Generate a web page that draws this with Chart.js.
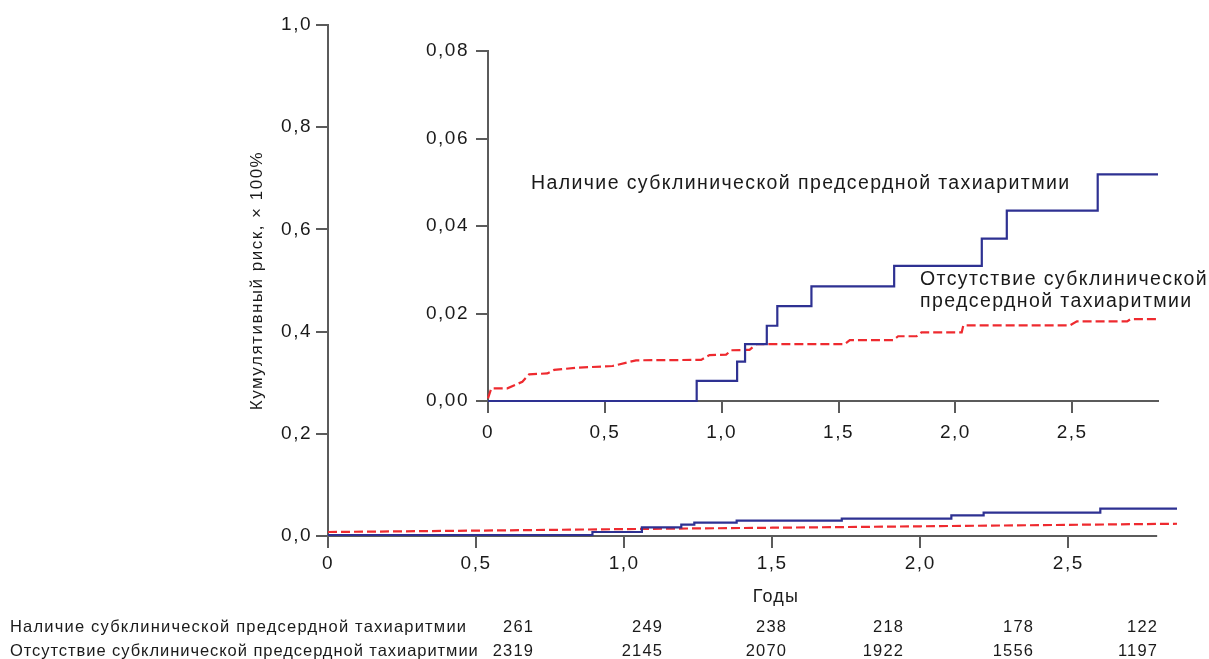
<!DOCTYPE html>
<html><head><meta charset="utf-8">
<script src="https://cdn.jsdelivr.net/npm/chart.js@4/dist/chart.umd.min.js"></script>
<style>
html,body{margin:0;padding:0;background:#fff;}
#wrap{position:relative;width:1209px;height:659px;overflow:hidden;font-family:'Liberation Sans',Arial,Helvetica,sans-serif;color:#1a1a1a;}
canvas{position:absolute;left:0;top:0;}
.t{position:absolute;white-space:nowrap;line-height:20px;}
.ann{font-size:19.5px;letter-spacing:1.4px;}
.tab{font-size:16.5px;letter-spacing:1.2px;}
</style></head><body>
<div id="wrap">
<canvas id="main" width="1209" height="659"></canvas>
<canvas id="inset" width="1209" height="659"></canvas>
</div>
<script>
// ---- tick values and labels ----
const xTicks = [0, 0.5, 1, 1.5, 2, 2.5];
const xTickLabels = ['0', '0,5', '1,0', '1,5', '2,0', '2,5'];
const mainYTicks = [0, 0.2, 0.4, 0.6, 0.8, 1.0];
const mainYTickLabels = ['0,0', '0,2', '0,4', '0,6', '0,8', '1,0'];
const insetYTicks = [0, 0.02, 0.04, 0.06, 0.08];
const insetYTickLabels = ['0,00', '0,02', '0,04', '0,06', '0,08'];
const xMax = 2.867;
const mainXAxisEnd = 2.8;

// ---- series names / texts ----
const seriesPresent = 'Наличие субклинической предсердной тахиаритмии';
const seriesAbsent = 'Отсутствие субклинической предсердной тахиаритмии';
const yTitle = 'Кумулятивный риск, × 100%';
const xTitle = 'Годы';

// ---- main chart series ----
const mainPresentX = [0, 0.893, 1.06, 1.193, 1.237, 1.38, 1.735, 2.105, 2.214, 2.608, 2.867];
const mainPresentY = [0.002, 0.0078, 0.017, 0.0223, 0.026, 0.030, 0.034, 0.0405, 0.0458, 0.0536, 0.0536];
const mainAbsentX = [0, 0.5, 1.0, 1.5, 2.0, 2.5, 2.867];
const mainAbsentY = [0.0078, 0.0105, 0.0135, 0.0162, 0.019, 0.0218, 0.024];

// ---- inset series ----
const insetPresentX = [0, 0.893, 1.066, 1.10, 1.193, 1.238, 1.384, 1.738, 2.113, 2.22, 2.609, 2.867];
const insetPresentY = [0, 0.0046, 0.009, 0.013, 0.0172, 0.0217, 0.0262, 0.0309, 0.0371, 0.0435, 0.0518, 0.0518];
const insetAbsentX = [0, 0.014, 0.083, 0.147, 0.176, 0.254, 0.283, 0.376, 0.533, 0.633, 0.912, 0.948, 1.019, 1.041, 1.119, 1.148, 1.527, 1.548, 1.734, 1.755, 1.834, 1.855, 2.027, 2.034, 2.491, 2.52, 2.735, 2.749, 2.867];
const insetAbsentY = [0.0006, 0.0029, 0.0029, 0.0044, 0.0061, 0.0063, 0.0071, 0.0076, 0.0080, 0.0093, 0.0094, 0.0105, 0.0106, 0.0116, 0.0117, 0.0130, 0.0130, 0.0139, 0.0139, 0.0148, 0.0148, 0.0157, 0.0157, 0.0173, 0.0173, 0.0182, 0.0182, 0.0187, 0.0187];

// ---- numbers at risk ----
const atRiskPresent = [261, 249, 238, 218, 178, 122];
const atRiskAbsent = [2319, 2145, 2070, 1922, 1556, 1197];

// ---- styling / layout (not data) ----
const BLUE = '#2e3192';
const RED = '#ee2a2f';
const AXIS = '#5b5b5b';
const TXT = '#1a1a1a';
const FONT = "'Liberation Sans', Arial, Helvetica, sans-serif";
const riskColRight = [533, 662, 786, 903, 1033, 1157];

const toPts = (xs, ys) => xs.map((x, i) => ({x: x, y: ys[i]}));

const spacingPlugin = {
  id: 'spacing',
  beforeUpdate(c) { c.ctx.letterSpacing = '1.5px'; },
  beforeDraw(c) { c.ctx.letterSpacing = '1.5px'; }
};
const mainAxisLine = {
  id: 'mainAxisLine',
  beforeDatasetsDraw(c) {
    const xs = c.scales.x, ys = c.scales.y, ctx = c.ctx;
    const y = Math.round(ys.getPixelForValue(0));
    ctx.save();
    ctx.strokeStyle = AXIS; ctx.lineWidth = 2;
    ctx.beginPath();
    ctx.moveTo(xs.getPixelForValue(0) - 1, y);
    ctx.lineTo(xs.getPixelForValue(mainXAxisEnd), y);
    ctx.stroke();
    ctx.restore();
  }
};

function axisCommon(tickVals, tickLabs, pad) {
  return {
    type: 'linear',
    afterBuildTicks: s => { s.ticks = tickVals.map(v => ({value: v})); },
    ticks: {
      callback: v => tickLabs[tickVals.indexOf(v)],
      padding: pad, color: TXT, font: {family: FONT, size: 19},
      autoSkip: false, maxRotation: 0
    },
    grid: {display: true, drawOnChartArea: false, drawTicks: true, tickLength: 12, color: AXIS, lineWidth: 2},
    border: {display: true, color: AXIS, width: 2}
  };
}

function lineDs(label, pts, color, dashed, stepped) {
  return {
    label: label, data: pts, borderColor: color, backgroundColor: color,
    borderWidth: 2.2, borderDash: dashed ? [9, 4] : [], stepped: stepped,
    pointRadius: 0, fill: false, tension: 0, clip: false
  };
}

// ---- main chart ----
const mx = axisCommon(xTicks, xTickLabels, 4);
mx.min = 0; mx.max = xMax; mx.afterFit = s => { s.height = 123; };
mx.border = {display: false};
const my = axisCommon(mainYTicks, mainYTickLabels, 4);
my.min = 0; my.max = 1; my.afterFit = s => { s.width = 85; };
my.title = {display: true, text: yTitle, color: TXT, font: {family: FONT, size: 17}, padding: {top: 4, bottom: 4}};

new Chart(document.getElementById('main'), {
  type: 'line',
  data: {datasets: [
    lineDs(seriesPresent, toPts(mainPresentX, mainPresentY), BLUE, false, true),
    lineDs(seriesAbsent, toPts(mainAbsentX, mainAbsentY), RED, true, false)
  ]},
  options: {
    responsive: false, animation: false, devicePixelRatio: 1,
    layout: {padding: {left: 243, top: 25, right: 32, bottom: 0}},
    plugins: {legend: {display: false}, tooltip: {enabled: false}},
    scales: {x: mx, y: my}
  },
  plugins: [spacingPlugin, mainAxisLine]
});

// ---- inset chart ----
const ix = axisCommon(xTicks, xTickLabels, 8);
ix.min = 0; ix.max = xMax; ix.afterFit = s => { s.height = 50; };
const iy = axisCommon(insetYTicks, insetYTickLabels, 7);
iy.min = 0; iy.max = 0.08; iy.afterFit = s => { s.width = 100; };

new Chart(document.getElementById('inset'), {
  type: 'line',
  data: {datasets: [
    lineDs(seriesPresent, toPts(insetPresentX, insetPresentY), BLUE, false, true),
    lineDs(seriesAbsent, toPts(insetAbsentX, insetAbsentY), RED, true, false)
  ]},
  options: {
    responsive: false, animation: false, devicePixelRatio: 1,
    layout: {padding: {left: 388, top: 51, right: 51, bottom: 208}},
    plugins: {legend: {display: false}, tooltip: {enabled: false}},
    scales: {x: ix, y: iy}
  },
  plugins: [spacingPlugin]
});

// ---- texts ----
const wrap = document.getElementById('wrap');
function addText(txt, cls, css) {
  const d = document.createElement('div');
  d.className = 't ' + cls;
  d.textContent = txt;
  Object.assign(d.style, css);
  wrap.appendChild(d);
  return d;
}
addText(seriesPresent, 'ann', {left: '531px', top: '172px'});
addText('Отсутствие субклинической', 'ann', {left: '920px', top: '268px'});
addText('предсердной тахиаритмии', 'ann', {left: '920px', top: '290px'});
addText(xTitle, 'ann', {left: '676px', width: '200px', textAlign: 'center', top: '586px', fontSize: '18px', letterSpacing: '1.2px'});

const rows = [[seriesPresent, atRiskPresent, 616, '1.2px'], [seriesAbsent, atRiskAbsent, 640, '0.95px']];
rows.forEach(r => {
  addText(r[0], 'tab', {left: '10px', top: r[2] + 'px', letterSpacing: r[3]});
  r[1].forEach((n, i) => {
    addText(String(n), 'tab', {right: (1209 - riskColRight[i] - 1.2) + 'px', top: r[2] + 'px', textAlign: 'right'});
  });
});
</script>
</body></html>
